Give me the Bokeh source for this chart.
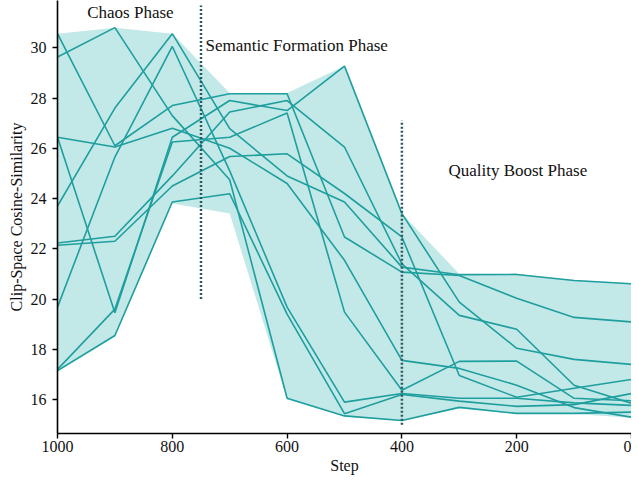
from bokeh.plotting import figure
from bokeh.models import Range1d, FixedTicker
from bokeh.core.properties import value
from bokeh.embed import file_html
from bokeh.resources import INLINE

steps = [1000, 900, 800, 700, 600, 500, 400, 300, 200, 100, 0]

run_1 = [30.56, 26.10, 27.70, 28.17, 28.17, 22.47, 21.07, 20.94, 20.03, 19.27, 19.09]
run_2 = [29.63, 30.80, 27.30, 24.75, 16.05, 15.35, 15.17, 15.69, 15.45, 15.45, 15.50]
run_3 = [26.44, 19.45, 26.44, 27.90, 27.50, 29.27, 23.40, 19.88, 18.04, 17.60, 17.40]
run_4 = [23.70, 27.60, 30.56, 26.78, 24.90, 23.86, 21.27, 20.97, 20.98, 20.74, 20.61]
run_5 = [22.23, 22.50, 24.90, 27.44, 27.90, 26.05, 21.40, 19.35, 18.80, 16.57, 15.85]
run_6 = [22.14, 22.30, 24.50, 25.67, 25.78, 24.20, 22.47, 16.96, 16.09, 16.45, 16.80]
run_7 = [19.68, 25.65, 30.05, 25.10, 19.68, 15.90, 16.24, 16.05, 16.05, 15.87, 15.77]
run_8 = [17.20, 19.60, 26.25, 26.44, 27.40, 19.48, 16.37, 17.52, 17.53, 16.05, 15.95]
run_9 = [17.15, 18.55, 23.86, 24.19, 19.40, 15.44, 16.20, 15.94, 15.73, 15.80, 16.24]
run_10 = [26.44, 26.05, 26.80, 26.00, 24.60, 21.54, 17.56, 17.24, 16.57, 15.68, 15.30]

band_hi = [30.56, 30.80, 30.56, 28.20, 28.20, 29.27, 23.40, 21.00, 21.00, 20.76, 20.63]
band_lo = [17.10, 18.50, 23.80, 23.40, 16.00, 15.33, 15.15, 15.65, 15.43, 15.43, 15.28]

x_ticks = [1000, 800, 600, 400, 200, 0]
y_ticks = [16, 18, 20, 22, 24, 26, 28, 30]

phase_names = ["Chaos Phase", "Semantic Formation Phase", "Quality Boost Phase"]

runs = [run_1, run_2, run_3, run_4, run_5, run_6, run_7, run_8, run_9, run_10]

FONT = "Liberation Serif"
LINE = "#1f9e9e"
FILL = "#c2e8e8"
DOT = "#2d5a5f"

p = figure(width=631, height=478, x_range=Range1d(1000, 0), y_range=Range1d(14.65, 31.88),
           output_backend="svg", toolbar_location=None,
           min_border_left=57, min_border_right=0, min_border_top=0, min_border_bottom=45)
p.outline_line_color = None
p.xgrid.visible = False
p.ygrid.visible = False
p.background_fill_color = "white"

p.varea(x=steps, y1=band_lo, y2=band_hi, fill_color=FILL, fill_alpha=1.0)
for r in runs:
    p.line(steps, r, line_color=LINE, line_width=1.6)

# phase separators
p.segment(x0=[750], y0=[20.0], x1=[750], y1=[31.68], line_color=DOT, line_width=2.5, line_dash="2 2")
p.segment(x0=[400], y0=[15.0], x1=[400], y1=[27.1], line_color=DOT, line_width=2.5, line_dash="2 2")

p.text(x=[873], y=[31.4], text=[phase_names[0]], text_font=value(FONT), text_font_size="17px",
       text_align="center", text_baseline="middle", text_color="#111111")
p.text(x=[742], y=[30.09], text=[phase_names[1]], text_font=value(FONT), text_font_size="17px",
       text_align="left", text_baseline="middle", text_color="#111111")
p.text(x=[319], y=[25.1], text=[phase_names[2]], text_font=value(FONT), text_font_size="17px",
       text_align="left", text_baseline="middle", text_color="#111111")

for ax in (p.xaxis[0], p.yaxis[0]):
    ax.axis_line_color = "black"
    ax.axis_line_width = 1.6
    ax.major_tick_line_color = "black"
    ax.major_tick_line_width = 1.4
    ax.major_tick_in = 0
    ax.major_tick_out = 5
    ax.minor_tick_line_color = None
    ax.major_label_text_font = FONT
    ax.major_label_text_font_size = "16px"
    ax.major_label_text_color = "#111111"
    ax.axis_label_text_font = FONT
    ax.axis_label_text_font_style = "normal"
    ax.axis_label_text_color = "#111111"
    ax.axis_label_text_font_size = "16px"

p.xaxis.ticker = FixedTicker(ticks=x_ticks)
p.yaxis.ticker = FixedTicker(ticks=y_ticks)
p.xaxis.axis_label = "Step"
p.yaxis.axis_label = "Clip-Space Cosine-Similarity"
p.xaxis.major_label_standoff = 2
p.yaxis.major_label_standoff = 6
p.xaxis.axis_label_standoff = 2
p.yaxis.axis_label_standoff = 3

open("out.html", "w").write(file_html(p, INLINE))
